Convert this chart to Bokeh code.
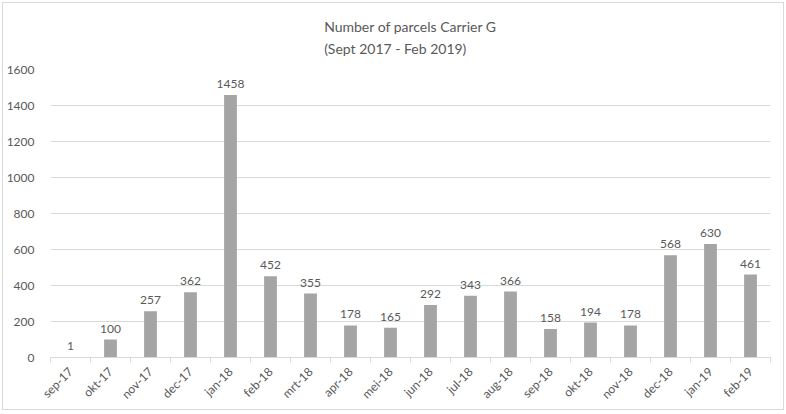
import math
from bokeh.plotting import figure
from bokeh.models import ColumnDataSource, Range1d, FixedTicker, Title
from bokeh.core.properties import value
from bokeh.embed import file_html
from bokeh.resources import INLINE

months = ["sep-17", "okt-17", "nov-17", "dec-17", "jan-18", "feb-18", "mrt-18", "apr-18",
          "mei-18", "jun-18", "jul-18", "aug-18", "sep-18", "okt-18", "nov-18", "dec-18",
          "jan-19", "feb-19"]
parcels = [1, 100, 257, 362, 1458, 452, 355, 178, 165, 292, 343, 366, 158, 194, 178, 568, 630, 461]
y_ticks = [0, 200, 400, 600, 800, 1000, 1200, 1400, 1600]
title_lines = ["Number of parcels Carrier G", "(Sept 2017 - Feb 2019)"]

FONT = "Lato"
TXT = "#595959"
GRID = "#D9D9D9"

xs = list(range(len(months)))
src = ColumnDataSource(dict(x=xs, y=parcels, lbl=[str(v) for v in parcels]))

p = figure(width=782, height=408, output_backend="svg", toolbar_location=None, title=None,
           x_range=Range1d(-0.5, len(months) - 0.5), y_range=Range1d(0, 1600),
           min_border_left=38, min_border_right=15, min_border_top=10, min_border_bottom=54)
p.styles = {"border": "1px solid #D9D9D9", "margin": "2px"}
p.outline_line_color = None
p.background_fill_color = "white"
p.border_fill_color = "white"

p.add_layout(Title(text="\n".join(title_lines), align="center", text_font=FONT,
                   text_font_size="14px", text_color=TXT, text_font_style="normal",
                   text_line_height=1.35, standoff=24), "above")

p.vbar(x="x", top="y", width=0.32, source=src, fill_color="#A5A5A5", line_color=None)
p.text(x="x", y="y", text="lbl", source=src, text_align="center", text_baseline="bottom",
       y_offset=-7, text_font=value(FONT), text_font_size="12px", text_color=TXT)

p.xgrid.grid_line_color = None
p.ygrid.grid_line_color = GRID
p.yaxis.ticker = FixedTicker(ticks=y_ticks)
p.yaxis.axis_line_color = None
p.yaxis.major_tick_line_color = None
p.yaxis.minor_tick_line_color = None
p.yaxis.major_label_standoff = 10
p.yaxis.major_label_text_font = FONT
p.yaxis.major_label_text_font_size = "12px"
p.yaxis.major_label_text_color = TXT

p.xaxis.ticker = FixedTicker(ticks=xs, minor_ticks=[i - 0.5 for i in range(len(months) + 1)])
p.xaxis.major_label_overrides = {i: m for i, m in enumerate(months)}
p.xaxis.major_label_orientation = math.pi / 4
p.xaxis.axis_line_color = GRID
p.xaxis.major_tick_line_color = None
p.xaxis.minor_tick_line_color = GRID
p.xaxis.minor_tick_in = 0
p.xaxis.minor_tick_out = 5
p.xaxis.major_label_standoff = 6
p.xaxis.major_label_text_font = FONT
p.xaxis.major_label_text_font_size = "12px"
p.xaxis.major_label_text_color = TXT

open("out.html", "w").write(file_html(p, INLINE))
